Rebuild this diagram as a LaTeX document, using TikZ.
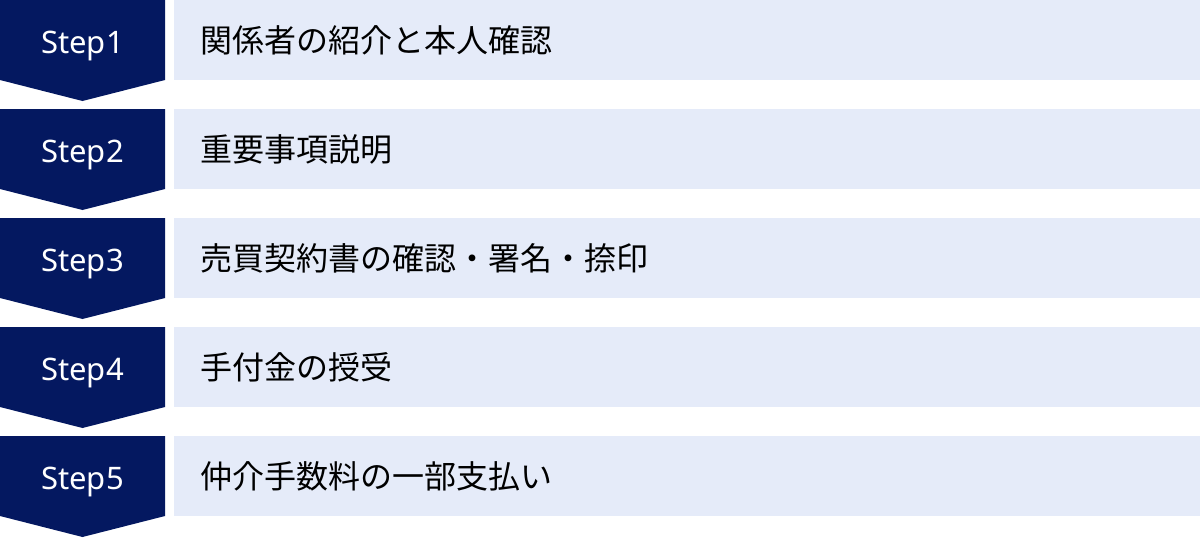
\documentclass[tikz,border=0pt]{standalone}
\usepackage{fontspec}
\setmainfont{Noto Sans}
\newfontfamily\stepfont{Noto Sans}
\newfontfamily\jpfont{Noto Sans CJK JP}
\definecolor{navy}{RGB}{4,24,96}
\definecolor{paleblue}{RGB}{229,235,249}
\begin{document}
\begin{tikzpicture}[x=1pt,y=-1pt,
  chev/.style={fill=navy},
  steplabel/.style={text=white,font=\stepfont\fontsize{31}{31}\selectfont,inner sep=0pt,anchor=base},
  band/.style={fill=paleblue,minimum width=1026pt,minimum height=80pt,inner sep=0pt,anchor=north west},
  bandtext/.style={font=\jpfont\fontsize{32}{32}\selectfont,anchor=west,inner sep=0pt}]
\useasboundingbox (0,0) rectangle (1200,538);
% row 1
\fill[chev] (0,0) -- (165,0) -- (165,80) -- (82.5,101) -- (0,80) -- cycle;
\node[steplabel] (s1) at (82.5,53) {Step1};
\node[band] (b1) at (174,0) {};
\node[bandtext] (t1) at ([xshift=26pt]b1.west) {関係者の紹介と本人確認};
% row 2
\fill[chev] (0,109) -- (165,109) -- (165,189) -- (82.5,210) -- (0,189) -- cycle;
\node[steplabel] (s2) at (82.5,162) {Step2};
\node[band] (b2) at (174,109) {};
\node[bandtext] (t2) at ([xshift=26pt]b2.west) {重要事項説明};
% row 3
\fill[chev] (0,218) -- (165,218) -- (165,298) -- (82.5,319) -- (0,298) -- cycle;
\node[steplabel] (s3) at (82.5,271) {Step3};
\node[band] (b3) at (174,218) {};
\node[bandtext] (t3) at ([xshift=26pt]b3.west) {売買契約書の確認・署名・捺印};
% row 4
\fill[chev] (0,327) -- (165,327) -- (165,407) -- (82.5,428) -- (0,407) -- cycle;
\node[steplabel] (s4) at (82.5,380) {Step4};
\node[band] (b4) at (174,327) {};
\node[bandtext] (t4) at ([xshift=26pt]b4.west) {手付金の授受};
% row 5
\fill[chev] (0,436) -- (165,436) -- (165,516) -- (82.5,537) -- (0,516) -- cycle;
\node[steplabel] (s5) at (82.5,489) {Step5};
\node[band] (b5) at (174,436) {};
\node[bandtext] (t5) at ([xshift=26pt]b5.west) {仲介手数料の一部支払い};
\end{tikzpicture}
\end{document}
